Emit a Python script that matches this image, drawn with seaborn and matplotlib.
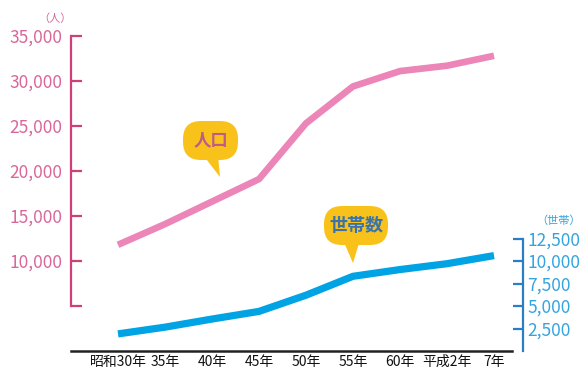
import matplotlib
matplotlib.use('Agg')
import matplotlib.pyplot as plt
import matplotlib.transforms as mtransforms
import seaborn as sns
import pandas as pd
from matplotlib.patches import FancyBboxPatch, Polygon

# ---- data ----
years = ['昭和30年', '35年', '40年', '45年', '50年', '55年', '60年', '平成2年', '7年']
population = [11800, 14100, 16600, 19100, 25300, 29400, 31100, 31700, 32800]
households = [1900, 2650, 3550, 4400, 6200, 8300, 9050, 9700, 10600]
pop_ticks = [5000, 10000, 15000, 20000, 25000, 30000, 35000]
pop_labels = ['', '10,000', '15,000', '20,000', '25,000', '30,000', '35,000']
hh_ticks = [2500, 5000, 7500, 10000, 12500]
hh_labels = ['2,500', '5,000', '7,500', '10,000', '12,500']

sns.set_style('white')
plt.rcParams['font.family'] = ['Noto Sans CJK JP', 'DejaVu Sans']

W, H = 583, 375
fig = plt.figure(figsize=(W / 100, H / 100), dpi=100)
ax = fig.add_axes([71 / W, 1 - 351 / H, (523 - 71) / W, (351 - 36) / H])

PINK_LINE = '#EC85B8'
PINK_AX = '#CF3F78'
PINK_TXT = '#D9679A'
BLUE_LINE = '#00A3E3'
BLUE_AX = '#2B7EC4'
BLUE_TXT = '#34A4DF'
YELLOW = '#F9C21B'

df = pd.DataFrame({'year': years, 'pop': population, 'hh': households})

sns.lineplot(data=df, x='year', y='pop', ax=ax, color=PINK_LINE, linewidth=4.8,
             sort=False)
ax2 = ax.twinx()
sns.lineplot(data=df, x='year', y='hh', ax=ax2, color=BLUE_LINE, linewidth=5.2,
             sort=False)
for l in ax.get_lines() + ax2.get_lines():
    l.set_solid_capstyle('butt')

for a in (ax, ax2):
    a.set_ylim(0, 35000)
    a.set_xlim(-1.0, 8.617)
    a.set_xlabel('')
    a.set_ylabel('')
    a.grid(False)
    a.patch.set_alpha(0)

# left axis
ax.set_yticks(pop_ticks)
ax.set_yticklabels(pop_labels)
ax.spines['top'].set_visible(False)
ax.spines['right'].set_visible(False)
ax.spines['left'].set_bounds(5000, 35000)
ax.spines['left'].set_color(PINK_AX)
ax.spines['left'].set_linewidth(1.6)
ax.tick_params(axis='y', direction='in', length=8, width=1.6, color=PINK_AX,
               labelcolor=PINK_TXT, labelsize=12.5, pad=6)

# bottom axis
ax.spines['bottom'].set_bounds(-1.0, 8.38)
ax.spines['bottom'].set_color('#222222')
ax.spines['bottom'].set_linewidth(1.8)
ax.set_xticks(range(len(years)))
ax.set_xticklabels(years)
ax.tick_params(axis='x', direction='in', length=6, width=1.3, color='#222222',
               labelcolor='#111111', labelsize=10, pad=3)

# right axis
ax2.set_yticks(hh_ticks)
ax2.set_yticklabels(hh_labels)
for s in ('top', 'left', 'bottom'):
    ax2.spines[s].set_visible(False)
ax2.spines['right'].set_bounds(0, 12500)
ax2.spines['right'].set_color(BLUE_AX)
ax2.spines['right'].set_linewidth(1.6)
ax2.tick_params(axis='y', direction='in', length=7, width=1.6, color=BLUE_AX,
                labelcolor=BLUE_TXT, labelsize=12.5, pad=3)


def fx(px):
    return px / W


def fy(py):
    return 1 - py / H


# unit labels
fig.text(fx(55), fy(19), '（人）', color=PINK_TXT, fontsize=8, ha='center', va='center')
fig.text(fx(559), fy(221), '（世帯）', color=BLUE_TXT, fontsize=8, ha='center', va='center')

pix = mtransforms.Affine2D().scale(fig.dpi / 100.0)


def bubble(x0, y0, x1, y1, tail, text, tcolor, fs):
    box = FancyBboxPatch((x0, H - y1), x1 - x0, y1 - y0,
                         boxstyle='round,pad=0,rounding_size=18',
                         fc=YELLOW, ec='none', zorder=5)
    box.set_transform(pix)
    fig.add_artist(box)
    tri = Polygon([(fx(p[0]), fy(p[1])) for p in tail], closed=True,
                  transform=fig.transFigure, fc=YELLOW, ec='none', zorder=5)
    fig.add_artist(tri)
    fig.text(fx((x0 + x1) / 2), fy((y0 + y1) / 2), text, color=tcolor,
             fontsize=fs, fontweight='bold', ha='center', va='center', zorder=6)


bubble(183, 121, 238, 160, [(203, 155), (218, 155), (220, 177)], '人口', '#C05A86', 12.5)
bubble(324, 206, 388, 245, [(343, 240), (360, 240), (353, 263)], '世帯数', '#3C74AA', 13)

fig.savefig('out.png', dpi=100)
